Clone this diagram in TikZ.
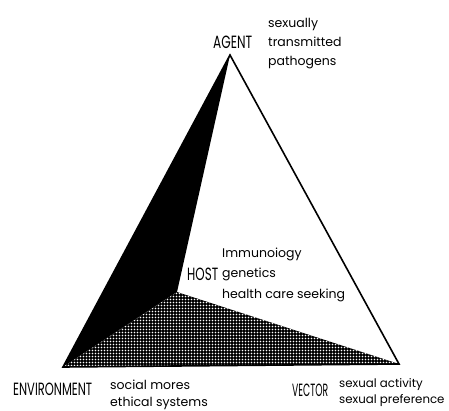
\documentclass[tikz,border=0pt]{standalone}
\usepackage{fontspec}
\setmainfont{Poppins}
\usetikzlibrary{patterns.meta}
\tikzdeclarepattern{name=wdots, type=uncolored, bounding box={(0,0) and (3.4pt,3.4pt)}, tile size={(3.4pt,3.4pt)}, code={\fill (1.7pt,1.7pt) circle (1.05pt);}}
\tikzset{
  lbl/.style={inner sep=0pt, align=left, anchor=base west},
  capl/.style={inner sep=0pt, anchor=base west},
  outl/.style={line width=1.6pt, line join=miter},
}
\newcommand{\capt}[2]{\resizebox{#1pt}{12.5pt}{\fontsize{12}{12}\selectfont #2}}
\newcommand{\fsz}[1]{\fontsize{12.5}{#1}\selectfont}
\begin{document}
\begin{tikzpicture}[x=1pt,y=-1pt]
\useasboundingbox (0,0) rectangle (449,410);
\coordinate (A) at (230,55);
\coordinate (E) at (63,367);
\coordinate (V) at (399,364);
\coordinate (H) at (177,292);
\fill[black] (E) -- (A) -- (H) -- cycle;
\fill[black] (E) -- (H) -- (V) -- cycle;
\fill[pattern=wdots, pattern color=white] (E) -- (H) -- (V) -- cycle;
\draw[outl] (A) -- (V) -- (E) -- cycle;
\node[capl] (agent) at (213,48) {\capt{39}{AGENT}};
\node[lbl, font=\fsz{19}] (agentt) at (268,65) {sexually\\transmitted\\pathogens};
\node[capl] (env) at (13,395) {\capt{79}{ENVIRONMENT}};
\node[lbl, font=\fsz{16.5}] (envt) at (110,406) {social mores\\ethical systems};
\node[capl] (vec) at (292,396) {\capt{36}{VECTOR}};
\node[lbl, font=\fontsize{11.8}{16}\selectfont] (vect) at (339,403) {sexual activity\\sexual preference};
\node[capl] (host) at (187,280) {\capt{31}{HOST}};
\node[lbl, font=\fsz{20.5}] (hostt) at (222,298) {Immunoiogy\\genetics\\health care seeking};
\end{tikzpicture}
\end{document}
